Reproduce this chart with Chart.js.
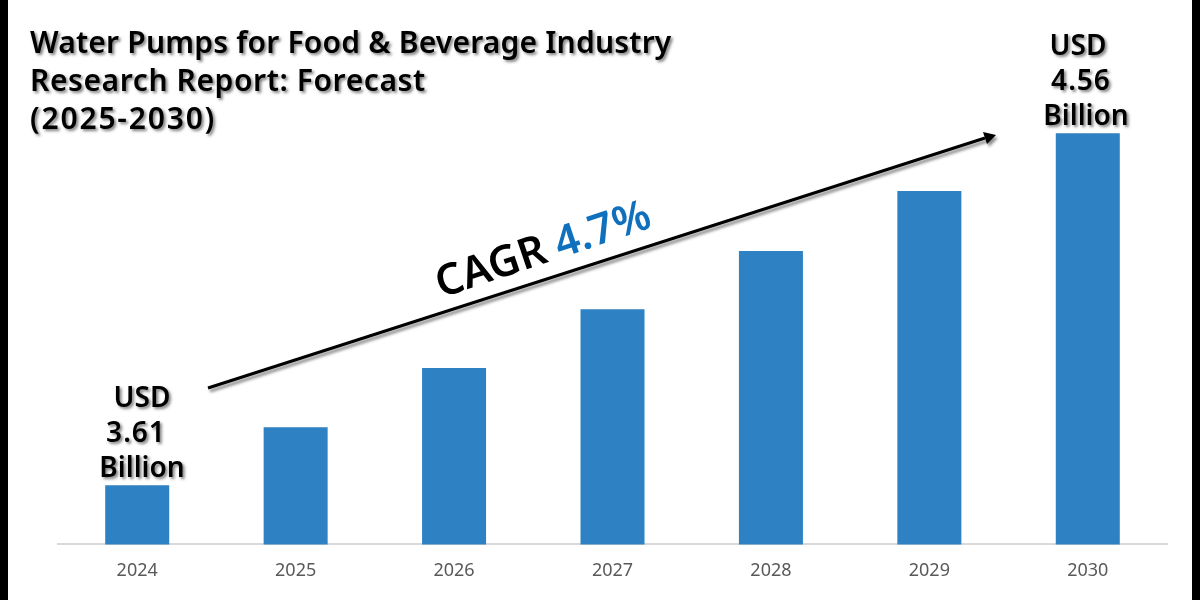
<!DOCTYPE html>
<html>
<head>
<meta charset="utf-8">
<title>Water Pumps for Food & Beverage Industry</title>
<script src="https://cdn.jsdelivr.net/npm/chart.js@4"></script>
<style>
    html, body { margin: 0; padding: 0; background: #000; overflow: hidden; }
    #caja { position: absolute; left: 8px; top: 0; width: 1184px; height: 600px; background: #fff; }
</style>
</head>
<body>
<div id="caja"><canvas id="chart1" width="1184" height="600"></canvas></div>
<script>
// Datos del gráfico.
const years = ['2024', '2025', '2026', '2027', '2028', '2029', '2030'];
const marketSize = [3.61, 3.766, 3.926, 4.085, 4.242, 4.404, 4.56];
const titleLines = ['Water Pumps for Food & Beverage Industry', 'Research Report: Forecast', '(2025-2030)'];
const startLabel = ['USD', '3.61', 'Billion'];
const endLabel = ['USD', '4.56', 'Billion'];

const FONT = '"Noto Sans", "DejaVu Sans Condensed", sans-serif';

// Texto con la sombra suave del original.
const shadowText = (ctx, text, x, y, font, color, align, spacing) => {
    ctx.save();
    ctx.font = font;
    ctx.letterSpacing = (spacing || 0) + 'px';
    ctx.fillStyle = color;
    ctx.textAlign = align || 'left';
    ctx.textBaseline = 'alphabetic';
    ctx.shadowColor = 'rgba(0, 0, 0, 0.5)';
    ctx.shadowOffsetX = 2;
    ctx.shadowOffsetY = 2;
    ctx.shadowBlur = 3;
    ctx.fillText(text, x, y);
    ctx.restore();
};

// Plugin para el título, las etiquetas de valor, la flecha y el CAGR.
const notas = {
    id: 'notas',
    afterDraw(chart) {
        const ctx = chart.ctx;
        ctx.save();
        ctx.translate(-8, 0);

        const titleSpacing = [0.2, 0.6, 1.8];
        titleLines.forEach((line, i) => {
            shadowText(ctx, line, 30, 53 + i * 38, '600 30px ' + FONT, '#000', 'left', titleSpacing[i]);
        });

        const startX = [142, 136, 142];
        const endX = [1078, 1081, 1086];
        const labelSpacing = [0, 1, 0];
        startLabel.forEach((line, i) => {
            shadowText(ctx, line, startX[i], 407 + i * 35, '600 28px ' + FONT, '#000', 'center', labelSpacing[i]);
        });
        endLabel.forEach((line, i) => {
            shadowText(ctx, line, endX[i], 55 + i * 35, '600 28px ' + FONT, '#000', 'center', labelSpacing[i]);
        });

        // Flecha de tendencia.
        ctx.save();
        ctx.shadowColor = 'rgba(0, 0, 0, 0.45)';
        ctx.shadowOffsetX = 2;
        ctx.shadowOffsetY = 3;
        ctx.shadowBlur = 3;
        ctx.strokeStyle = '#000';
        ctx.fillStyle = '#000';
        ctx.lineWidth = 3;
        ctx.beginPath();
        ctx.moveTo(208, 388);
        ctx.lineTo(985, 138);
        ctx.stroke();
        ctx.beginPath();
        ctx.moveTo(996, 135);
        ctx.lineTo(983, 132);
        ctx.lineTo(987, 144);
        ctx.closePath();
        ctx.fill();
        ctx.restore();

        // CAGR girado sobre la flecha.
        ctx.save();
        ctx.translate(441, 298);
        ctx.rotate(-18.5 * Math.PI / 180);
        ctx.font = '600 43px ' + FONT;
        ctx.fillStyle = '#000';
        ctx.fillText('CAGR', 0, 0);
        const ancho = ctx.measureText('CAGR ').width;
        ctx.fillStyle = '#0f70bd';
        ctx.fillText('4.7%', ancho, 0);
        ctx.restore();

        ctx.restore();
    }
};

document.addEventListener('DOMContentLoaded', () => {
    new Chart(document.getElementById('chart1').getContext('2d'), {
        type: 'bar',
        data: {
            labels: years,
            datasets: [{
                data: marketSize,
                backgroundColor: '#2e81c2',
                barPercentage: 0.404,
                categoryPercentage: 1
            }]
        },
        options: {
            responsive: false,
            animation: false,
            devicePixelRatio: 1,
            layout: { padding: { left: 50, right: 25, top: 0, bottom: 10 } },
            plugins: {
                legend: { display: false },
                title: { display: false },
                tooltip: { enabled: false }
            },
            scales: {
                x: {
                    grid: { display: false },
                    border: { color: '#d9d9d9', width: 2 },
                    ticks: { color: '#595959', padding: 8, font: { family: FONT, size: 18 } }
                },
                y: { display: false, min: 3.45, max: 4.92 }
            }
        },
        plugins: [notas]
    });
});
</script>
</body>
</html>
